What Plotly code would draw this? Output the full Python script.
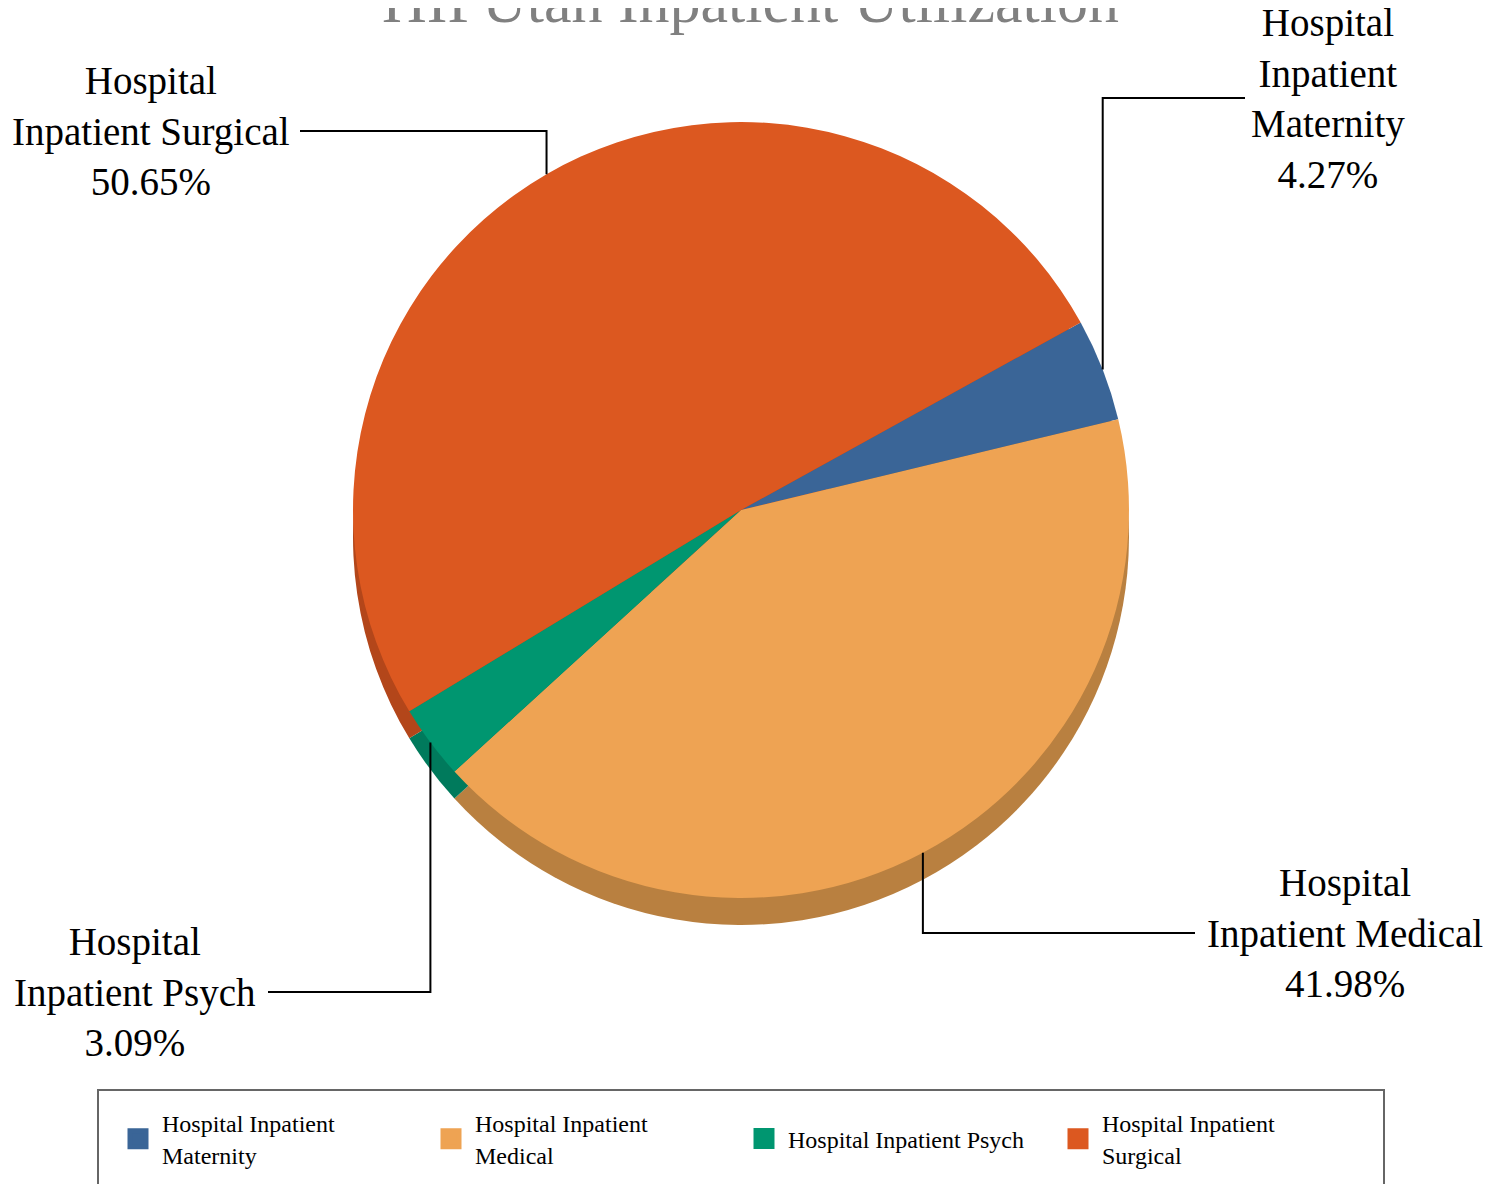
import math
import plotly.graph_objects as go

# ---------------- data ----------------
categories = ["Hospital Inpatient Maternity", "Hospital Inpatient Medical",
              "Hospital Inpatient Psych", "Hospital Inpatient Surgical"]
label_lines = [["Hospital", "Inpatient", "Maternity"],
               ["Hospital", "Inpatient Medical"],
               ["Hospital", "Inpatient Psych"],
               ["Hospital", "Inpatient Surgical"]]
legend_names = ["Hospital Inpatient<br>Maternity", "Hospital Inpatient<br>Medical",
                "Hospital Inpatient Psych", "Hospital Inpatient<br>Surgical"]
values = [4.27, 41.98, 3.09, 50.65]
title_text = "HIPUtah Inpatient Utilization"

# ---------------- style / layout ----------------
colors = ["#3A6597", "#EEA353", "#009670", "#DC5820"]
side_colors = ["#2B4C72", "#B98040", "#007A5C", "#B3461A"]
W, H = 1492, 1184             # window size
OFF = 8                       # default page body margin
WF, HF = W - OFF, H - OFF     # figure size
CX, CY, R = 741, 510, 388     # pie centre / radius in window pixels
DEPTH = 27                    # 3D side depth in pixels
ROTATION = 61.1
FONT = "Liberation Serif"

# label block centres and leader-line end x (window pixels)
label_pos = [(1328, 98, 1245), (1345, 933, 1195), (135, 992, 268), (151, 131, 300)]
# legend item symbol centres x (window pixels), row centre y
legend_x = [134, 447, 760, 1074]
LEGEND_Y = 1139


def px(x):
    return (x - OFF) / WF


def py(y):
    return 1 - (y - OFF) / HF


dom_x = [px(CX - R), px(CX + R)]
dom_y = [py(CY + R), py(CY - R)]
dom_y_side = [py(CY + R + DEPTH), py(CY - R + DEPTH)]

fig = go.Figure()

# side (depth) of the pie
fig.add_trace(go.Pie(
    labels=categories, values=values, sort=False, direction="clockwise",
    rotation=ROTATION, domain=dict(x=dom_x, y=dom_y_side),
    marker=dict(colors=side_colors, line=dict(width=0)),
    textinfo="none", hoverinfo="skip", showlegend=False,
))

# top of the pie
fig.add_trace(go.Pie(
    labels=categories, values=values, sort=False, direction="clockwise",
    rotation=ROTATION, domain=dict(x=dom_x, y=dom_y),
    marker=dict(colors=colors, line=dict(width=0)),
    textinfo="none", showlegend=False,
))

# legend entries (square markers) via dummy traces, one legend per entry
legend_layouts = {}
for i, (name, c) in enumerate(zip(legend_names, colors)):
    key = "legend" if i == 0 else f"legend{i + 1}"
    fig.add_trace(go.Scatter(
        x=[None], y=[None], mode="markers", name=name, legend=key,
        marker=dict(symbol="square", size=16, color=c, line=dict(color=c, width=5)),
        showlegend=True,
    ))
    legend_layouts[key] = dict(
        x=px(legend_x[i] - 20), xanchor="left", y=py(LEGEND_Y), yanchor="middle",
        font=dict(family=FONT, size=24, color="black"),
        itemsizing="trace", itemwidth=38,
        bgcolor="rgba(0,0,0,0)", borderwidth=0,
    )

# leader lines and labels computed from the data
total = sum(values)
start = 90 - ROTATION
cum = 0.0
shapes = []
annotations = []
for i, v in enumerate(values):
    frac = v / total
    mid = math.radians(start - 360 * (cum + frac / 2))
    cum += frac
    ex = CX + R * math.cos(mid)
    ey = CY - R * math.sin(mid)
    lx, ly, lend = label_pos[i]
    shapes.append(dict(
        type="path", xref="paper", yref="paper",
        path=f"M {px(ex)},{py(ey)} L {px(ex)},{py(ly)} L {px(lend)},{py(ly)}",
        line=dict(color="black", width=2),
    ))
    text = "<br>".join(label_lines[i] + [f"{v:.2f}%"])
    annotations.append(dict(
        text=text, x=px(lx), y=py(ly), xref="paper", yref="paper",
        xanchor="center", yanchor="middle", showarrow=False, align="center",
        font=dict(family=FONT, size=39, color="black"),
    ))

annotations.append(dict(
    text=title_text, x=px(750), y=py(1), xref="paper", yref="paper",
    xanchor="center", yanchor="middle", showarrow=False,
    font=dict(family=FONT, size=62, color="#808080"),
))

# legend frame
shapes.append(dict(
    type="rect", xref="paper", yref="paper",
    x0=px(98), x1=px(1384), y0=py(1230), y1=py(1090),
    line=dict(color="#666666", width=2), fillcolor="rgba(0,0,0,0)",
))

fig.update_layout(
    width=WF, height=HF,
    margin=dict(l=0, r=0, t=0, b=0),
    paper_bgcolor="white", plot_bgcolor="white",
    xaxis=dict(visible=False), yaxis=dict(visible=False),
    shapes=shapes, annotations=annotations,
    **legend_layouts,
)

fig.write_html("out.html")
